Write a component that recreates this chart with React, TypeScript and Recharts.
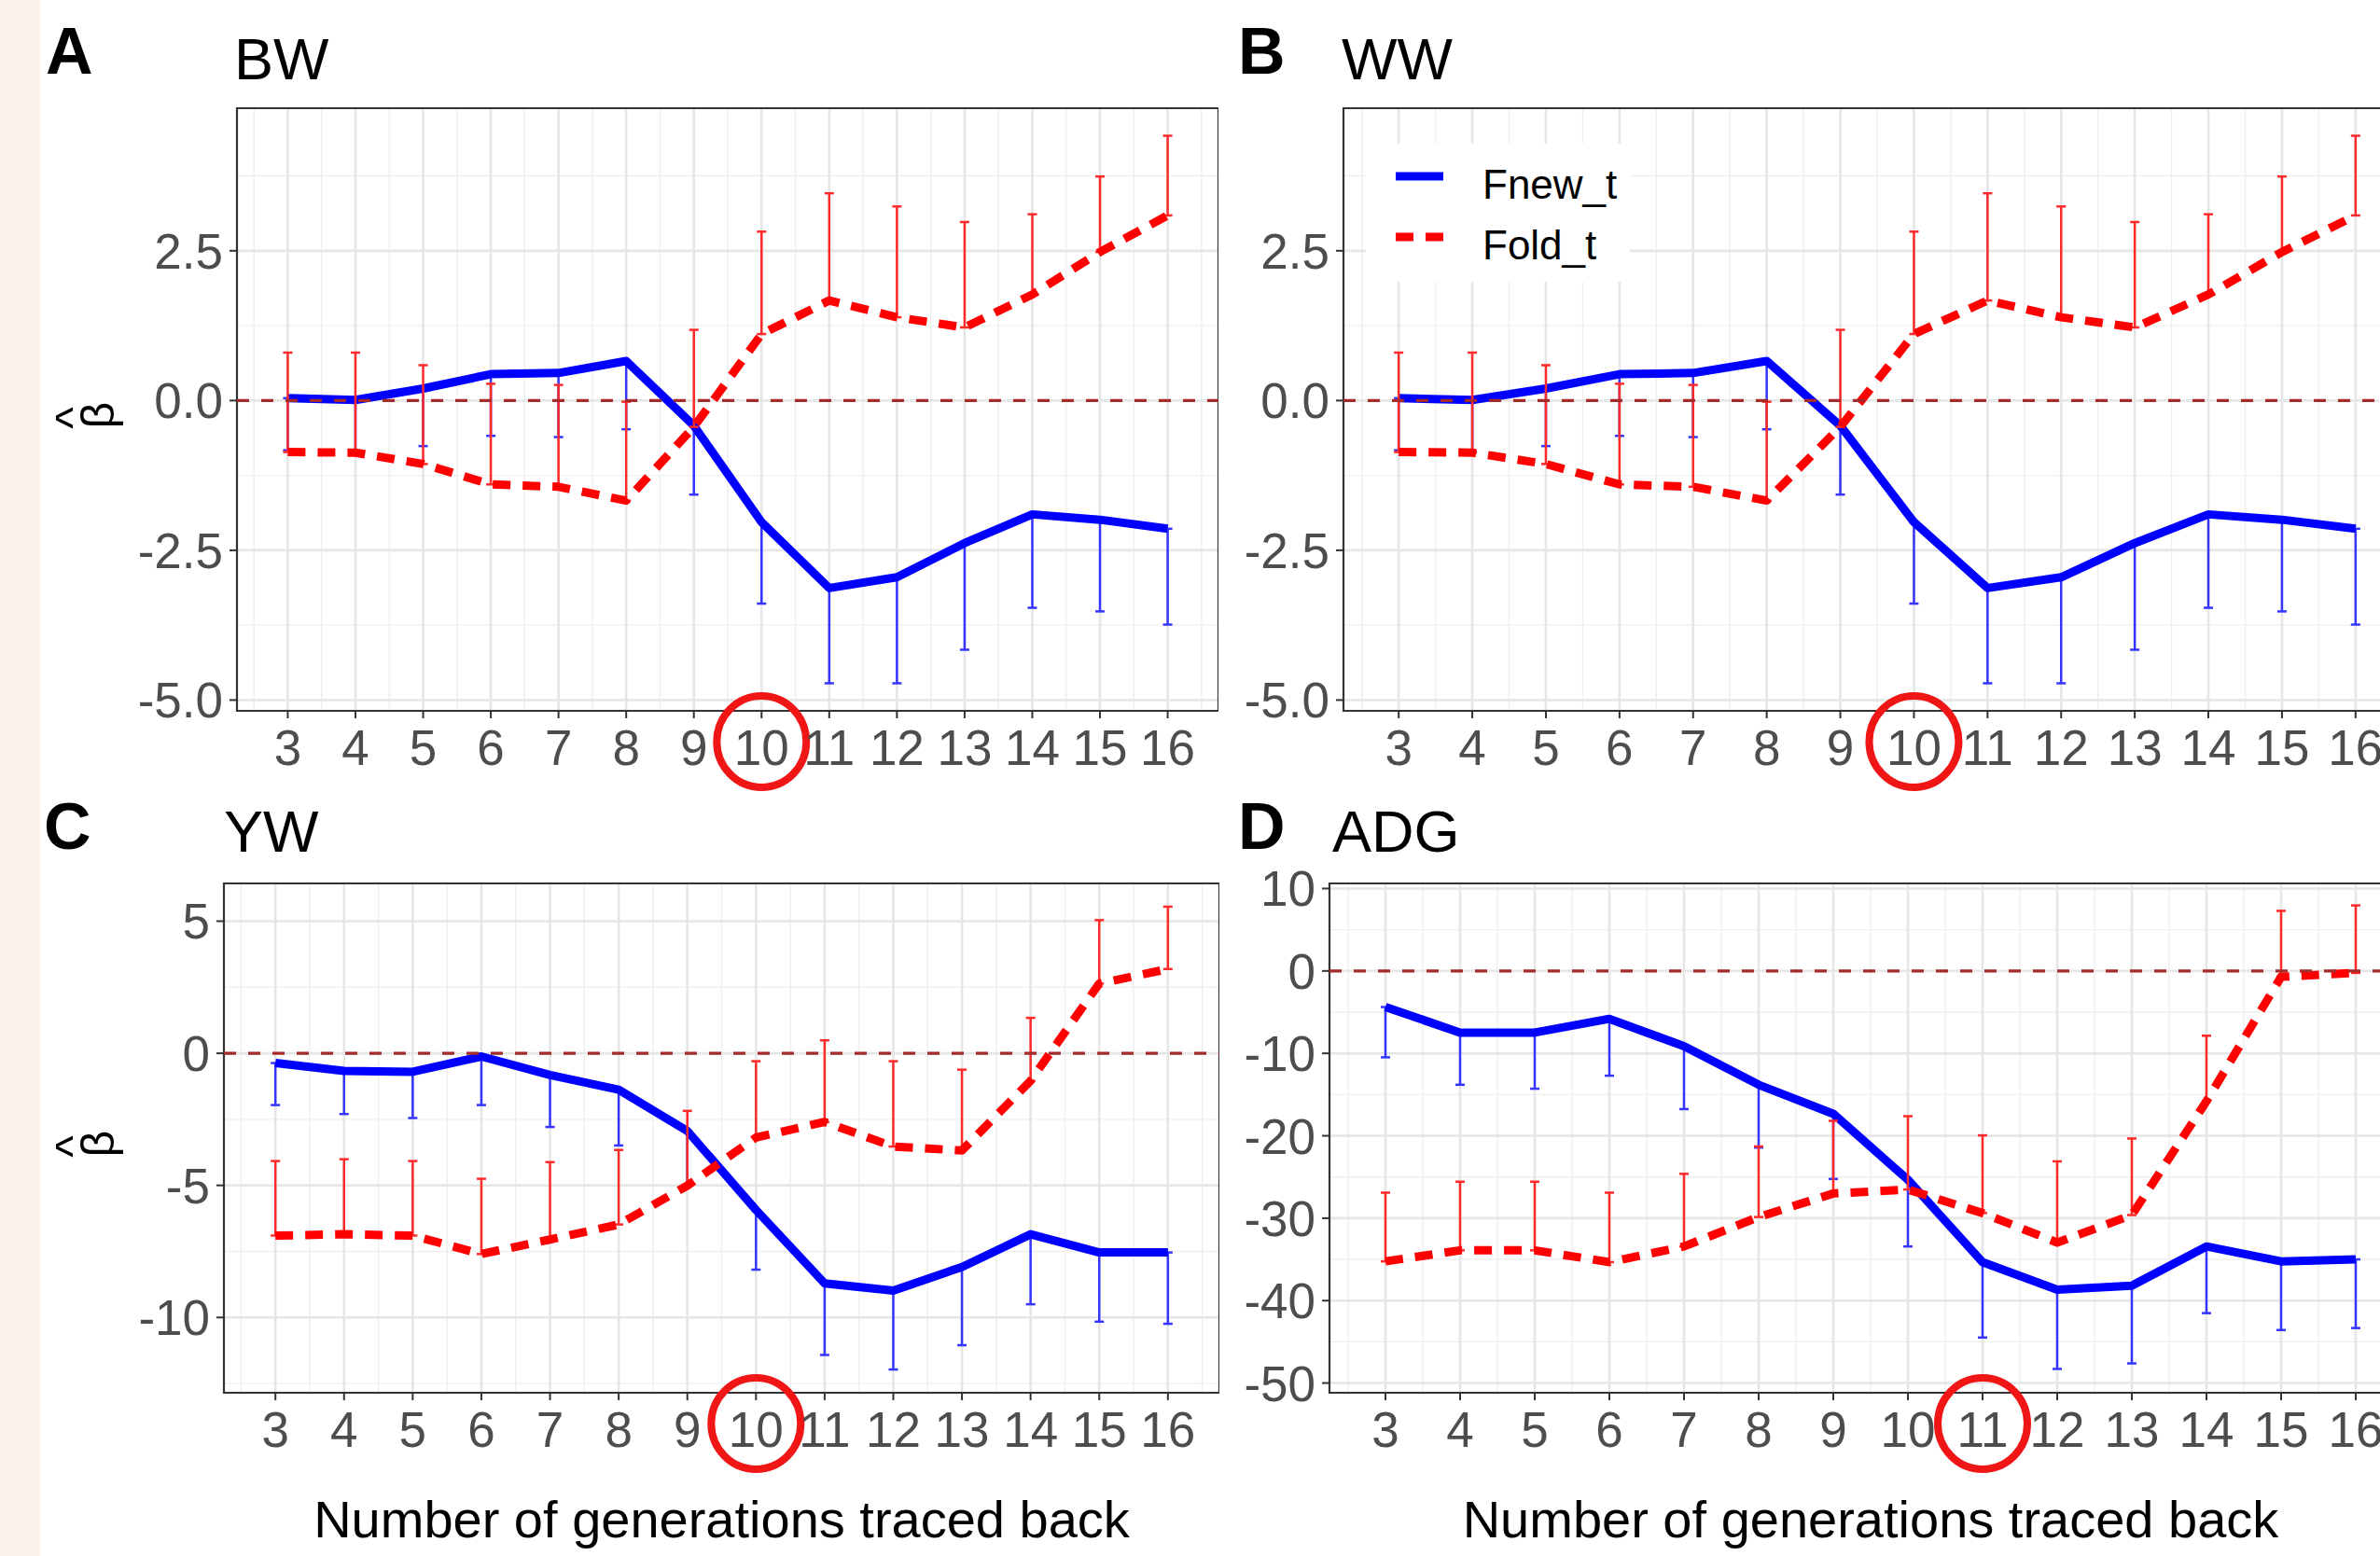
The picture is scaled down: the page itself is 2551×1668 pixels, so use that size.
import React from 'react';
import {
  LineChart,
  Line,
  XAxis,
  YAxis,
  CartesianGrid,
  ReferenceLine,
  ReferenceArea,
  ErrorBar,
  Legend,
} from 'recharts';

// ---------- data ----------
const generations = [3, 4, 5, 6, 7, 8, 9, 10, 11, 12, 13, 14, 15, 16];
const xMinorBreaks = [2.5, 3.5, 4.5, 5.5, 6.5, 7.5, 8.5, 9.5, 10.5, 11.5, 12.5, 13.5, 14.5, 15.5, 16.5];
const xDomain: [number, number] = [2.25, 16.75];

const seriesNames = ['Fnew_t', 'Fold_t'];

// BW
const bwFnew = [0.04, 0.01, 0.2, 0.44, 0.46, 0.66, -0.42, -2.03, -3.13, -2.95, -2.38, -1.9, -1.99, -2.14];
const bwFnewLower = [-0.83, -0.86, -0.76, -0.59, -0.61, -0.48, -1.57, -3.39, -4.72, -4.72, -4.16, -3.46, -3.52, -3.74];
const bwFold = [-0.86, -0.87, -1.06, -1.4, -1.44, -1.67, -0.44, 1.11, 1.67, 1.39, 1.22, 1.77, 2.48, 3.09];
const bwFoldUpper = [0.8, 0.8, 0.59, 0.28, 0.26, -0.02, 1.18, 2.82, 3.46, 3.24, 2.98, 3.11, 3.74, 4.42];

// WW
const wwFnew = [0.04, 0.01, 0.2, 0.44, 0.46, 0.66, -0.42, -2.03, -3.13, -2.95, -2.38, -1.9, -1.99, -2.14];
const wwFnewLower = [-0.83, -0.86, -0.76, -0.59, -0.61, -0.48, -1.57, -3.39, -4.72, -4.72, -4.16, -3.46, -3.52, -3.74];
const wwFold = [-0.86, -0.87, -1.06, -1.4, -1.44, -1.67, -0.44, 1.11, 1.67, 1.39, 1.22, 1.77, 2.48, 3.09];
const wwFoldUpper = [0.8, 0.8, 0.59, 0.28, 0.26, -0.02, 1.18, 2.82, 3.46, 3.24, 2.98, 3.11, 3.74, 4.42];

// YW
const ywFnew = [-0.37, -0.67, -0.7, -0.12, -0.82, -1.38, -2.94, -5.93, -8.71, -8.98, -8.09, -6.85, -7.54, -7.54];
const ywFnewLower = [-1.96, -2.3, -2.45, -1.96, -2.79, -3.49, -5.01, -8.19, -11.42, -11.97, -11.05, -9.5, -10.16, -10.24];
const ywFold = [-6.9, -6.85, -6.9, -7.6, -7.05, -6.48, -5.01, -3.19, -2.6, -3.53, -3.68, -1.04, 2.64, 3.19];
const ywFoldUpper = [-4.08, -4.01, -4.08, -4.75, -4.12, -3.66, -2.18, -0.3, 0.49, -0.3, -0.62, 1.34, 5.04, 5.55];

// ADG
const adgFnew = [-4.38, -7.48, -7.48, -5.81, -9.14, -13.81, -17.33, -25.33, -35.33, -38.67, -38.19, -33.43, -35.24, -35.0];
const adgFnewLower = [-10.48, -13.81, -14.29, -12.71, -16.76, -21.43, -25.24, -33.43, -44.48, -48.29, -47.62, -41.52, -43.57, -43.33];
const adgFold = [-35.24, -33.9, -33.9, -35.33, -33.43, -29.86, -27.0, -26.52, -29.38, -32.95, -29.62, -15.81, -0.71, -0.24];
const adgFoldUpper = [-26.9, -25.57, -25.57, -26.9, -24.62, -21.29, -18.19, -17.62, -19.95, -23.1, -20.33, -7.86, 7.29, 7.95];

// y axis ticks
const bwTicks = [-5, -2.5, 0, 2.5];
const bwMinor = [-3.75, -1.25, 1.25, 3.75];
const ywTicks = [-10, -5, 0, 5];
const ywMinor = [-12.5, -7.5, -2.5, 2.5];
const adgTicks = [-50, -40, -30, -20, -10, 0, 10];
const adgMinor = [-45, -35, -25, -15, -5, 5];

// ---------- styles ----------
const FONT = "'Liberation Sans', Arial, Helvetica, sans-serif";
const BLUE = '#0000FF';
const RED = '#FF0000';
const LINE_W = 9;
const RED_DASH = '19 13';

const seriesStyles = [
  { key: 'fnew', name: seriesNames[0], color: BLUE, dash: undefined as string | undefined },
  { key: 'fold', name: seriesNames[1], color: RED, dash: RED_DASH },
];

type Row = {
  gen: number;
  fnew: number;
  fold: number;
  fnewErr: [number, number];
  foldErr: [number, number];
};

function buildRows(fnew: number[], fnewLower: number[], fold: number[], foldUpper: number[]): Row[] {
  return generations.map((g, i) => ({
    gen: g,
    fnew: fnew[i],
    fold: fold[i],
    fnewErr: [fnew[i] - fnewLower[i], 0],
    foldErr: [0, foldUpper[i] - fold[i]],
  }));
}

const makeXTick = (highlight: number | null) => (props: any) => {
  const { x, y, payload } = props;
  return (
    <g>
      <text x={x} y={y + 38} textAnchor="middle" fill="#4D4D4D" fontSize={53} fontFamily={FONT}>
        {payload.value}
      </text>
      {payload.value === highlight ? (
        <ellipse cx={x} cy={y + 13} rx={48} ry={49} fill="none" stroke="#F01616" strokeWidth={8} />
      ) : null}
    </g>
  );
};

const makeYTick = (fmt: (v: number) => string) => (props: any) => {
  const { x, y, payload } = props;
  return (
    <text x={x} y={y + 19} textAnchor="end" fill="#4D4D4D" fontSize={53} fontFamily={FONT}>
      {fmt(payload.value)}
    </text>
  );
};

const renderXTitle = (props: any) => {
  const vb = props.viewBox || {};
  return (
    <text x={vb.x + vb.width / 2} y={vb.y + 155} textAnchor="middle" fill="#000" fontSize={56} fontFamily={FONT}>
      Number of generations traced back
    </text>
  );
};

const renderYTitle = (props: any) => {
  const vb = props.viewBox || {};
  const bx = vb.x + 122;
  const cy = vb.y + vb.height / 2 + 6;
  const hx = vb.x + 94;
  const hy = cy + 3;
  return (
    <g fill="#000" fontFamily={FONT}>
      <text x={bx} y={cy} transform={`rotate(-90, ${bx}, ${cy})`} textAnchor="middle" fontSize={50}>
        {'\u03B2'}
      </text>
      <text x={hx} y={hy} transform={`rotate(-90, ${hx}, ${hy})`} textAnchor="middle" fontSize={50}>
        {'^'}
      </text>
    </g>
  );
};

const renderLegend = () => (
  <svg width={283} height={148} style={{ display: 'block' }}>
    <rect x={0} y={0} width={283} height={148} fill="#FFFFFF" />
    {seriesStyles.map((s, i) => (
      <g key={s.key}>
        <line
          x1={32}
          x2={83}
          y1={35 + i * 65}
          y2={35 + i * 65}
          stroke={s.color}
          strokeWidth={LINE_W}
          strokeDasharray={s.dash}
        />
        <text x={125} y={59 + i * 65} fontSize={44} fill="#000" fontFamily={FONT}>
          {s.name}
        </text>
      </g>
    ))}
  </svg>
);

type PanelProps = {
  left: number;
  top: number;
  width: number;
  height: number;
  marginTop: number;
  yAxisWidth: number;
  xAxisHeight: number;
  rows: Row[];
  yDomain: [number, number];
  yTicks: number[];
  yMinor: number[];
  fmt: (v: number) => string;
  highlight: number | null;
  xTitle: boolean;
  yTitle: boolean;
  legend: boolean;
};

function Panel(p: PanelProps) {
  return (
    <div style={{ position: 'absolute', left: p.left, top: p.top, width: p.width, height: p.height }}>
      <LineChart
        width={p.width}
        height={p.height}
        data={p.rows}
        margin={{ top: p.marginTop, right: 0, bottom: 0, left: 0 }}
      >
        <CartesianGrid
          horizontalValues={p.yMinor}
          verticalValues={xMinorBreaks}
          stroke="#EFEFEF"
          strokeWidth={1.4}
          fill="none"
        />
        <CartesianGrid
          horizontalValues={p.yTicks}
          verticalValues={generations}
          stroke="#E6E6E6"
          strokeWidth={2.6}
          fill="none"
        />
        <XAxis
          type="number"
          dataKey="gen"
          domain={xDomain}
          ticks={generations}
          interval={0}
          allowDataOverflow
          height={p.xAxisHeight}
          axisLine={false}
          tickSize={8}
          tickMargin={12}
          tickLine={{ stroke: '#333333', strokeWidth: 2 }}
          tick={makeXTick(p.highlight)}
          label={p.xTitle ? renderXTitle : undefined}
        />
        <YAxis
          type="number"
          domain={p.yDomain}
          ticks={p.yTicks}
          interval={0}
          allowDataOverflow
          width={p.yAxisWidth}
          axisLine={false}
          tickSize={8}
          tickMargin={7}
          tickLine={{ stroke: '#333333', strokeWidth: 2 }}
          tick={makeYTick(p.fmt)}
          label={p.yTitle ? renderYTitle : undefined}
        />
        <Line
          type="linear"
          dataKey="fnew"
          name={seriesNames[0]}
          stroke={BLUE}
          strokeWidth={LINE_W}
          strokeLinejoin="round"
          dot={false}
          activeDot={false}
          isAnimationActive={false}
        >
          <ErrorBar dataKey="fnewErr" direction="y" width={5} stroke="#3535FF" strokeWidth={2.5} isAnimationActive={false} />
        </Line>
        <Line
          type="linear"
          dataKey="fold"
          name={seriesNames[1]}
          stroke={RED}
          strokeWidth={LINE_W}
          strokeDasharray={RED_DASH}
          strokeLinejoin="round"
          dot={false}
          activeDot={false}
          isAnimationActive={false}
        >
          <ErrorBar dataKey="foldErr" direction="y" width={5} stroke="#FF2A2A" strokeWidth={2.5} isAnimationActive={false} />
        </Line>
        <ReferenceLine y={0} stroke="#A52A2A" strokeWidth={3.2} strokeDasharray="13 13" />
        <ReferenceArea
          x1={xDomain[0]}
          x2={xDomain[1]}
          y1={p.yDomain[0]}
          y2={p.yDomain[1]}
          fill="none"
          fillOpacity={0}
          stroke="#333333"
          strokeWidth={2.2}
          ifOverflow="visible"
        />
        {p.legend ? (
          <Legend
            layout="horizontal"
            verticalAlign="middle"
            align="center"
            content={renderLegend}
            wrapperStyle={{ position: 'absolute', left: 164, top: 154, width: 283, height: 148 }}
          />
        ) : null}
      </LineChart>
    </div>
  );
}

const fmt1 = (v: number) => v.toFixed(1);
const fmt0 = (v: number) => String(v);

export default function App() {
  const bwRows = buildRows(bwFnew, bwFnewLower, bwFold, bwFoldUpper);
  const wwRows = buildRows(wwFnew, wwFnewLower, wwFold, wwFoldUpper);
  const ywRows = buildRows(ywFnew, ywFnewLower, ywFold, ywFoldUpper);
  const adgRows = buildRows(adgFnew, adgFnewLower, adgFold, adgFoldUpper);

  return (
    <div
      style={{
        position: 'absolute',
        left: 0,
        top: 0,
        width: 2551,
        height: 1668,
        overflow: 'hidden',
        background: '#FFFFFF',
        fontFamily: FONT,
      }}
    >
      <div style={{ position: 'absolute', left: 0, top: 0, width: 43, height: 1668, background: '#FCF2EE' }} />

      <Panel
        left={0}
        top={0}
        width={1306}
        height={860}
        marginTop={116}
        yAxisWidth={254}
        xAxisHeight={98}
        rows={bwRows}
        yDomain={[-5.18, 4.88]}
        yTicks={bwTicks}
        yMinor={bwMinor}
        fmt={fmt1}
        highlight={10}
        xTitle={false}
        yTitle={true}
        legend={false}
      />
      <Panel
        left={1300}
        top={0}
        width={1284}
        height={860}
        marginTop={116}
        yAxisWidth={140}
        xAxisHeight={98}
        rows={wwRows}
        yDomain={[-5.18, 4.88]}
        yTicks={bwTicks}
        yMinor={bwMinor}
        fmt={fmt1}
        highlight={10}
        xTitle={false}
        yTitle={false}
        legend={true}
      />
      <Panel
        left={0}
        top={830}
        width={1307}
        height={838}
        marginTop={117}
        yAxisWidth={240}
        xAxisHeight={175}
        rows={ywRows}
        yDomain={[-12.85, 6.43]}
        yTicks={ywTicks}
        yMinor={ywMinor}
        fmt={fmt0}
        highlight={10}
        xTitle={true}
        yTitle={true}
        legend={false}
      />
      <Panel
        left={1300}
        top={830}
        width={1285}
        height={838}
        marginTop={117}
        yAxisWidth={125}
        xAxisHeight={175}
        rows={adgRows}
        yDomain={[-51.18, 10.62]}
        yTicks={adgTicks}
        yMinor={adgMinor}
        fmt={fmt0}
        highlight={11}
        xTitle={true}
        yTitle={false}
        legend={false}
      />

      <svg
        width={2551}
        height={1668}
        style={{ position: 'absolute', left: 0, top: 0, pointerEvents: 'none' }}
      >
        <g fontFamily={FONT} fill="#000">
          <text x={49} y={79} fontSize={70} fontWeight="bold">A</text>
          <text x={251} y={85} fontSize={63}>BW</text>
          <text x={1327} y={79} fontSize={70} fontWeight="bold">B</text>
          <text x={1438} y={85} fontSize={63}>WW</text>
          <text x={47} y={910} fontSize={70} fontWeight="bold">C</text>
          <text x={240} y={913} fontSize={63}>YW</text>
          <text x={1327} y={910} fontSize={70} fontWeight="bold">D</text>
          <text x={1428} y={913} fontSize={63}>ADG</text>
        </g>
      </svg>
    </div>
  );
}
